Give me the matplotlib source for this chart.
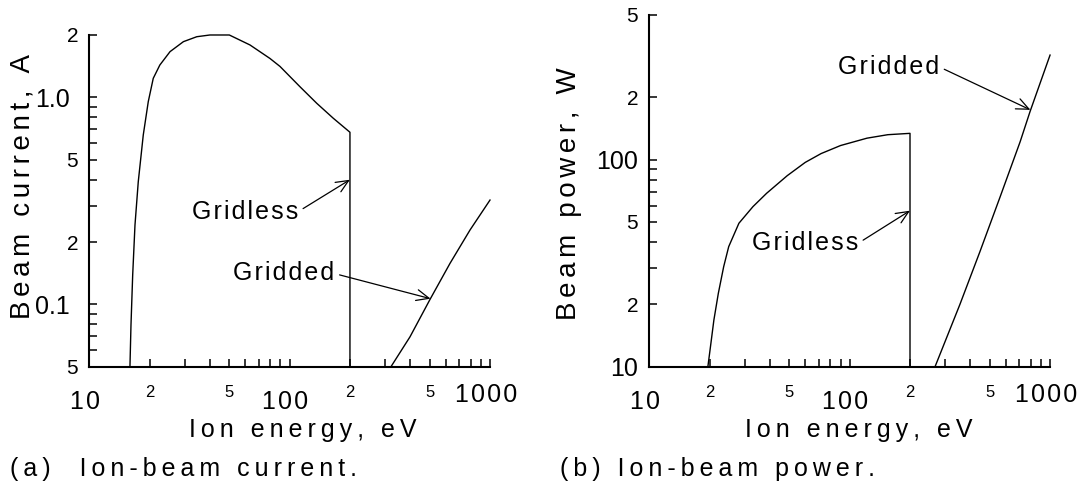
import numpy as np
import matplotlib.pyplot as plt
import matplotlib.transforms as mtransforms

plt.rcParams['font.family'] = ['Liberation Sans', 'DejaVu Sans']

# (a) beam current vs ion energy
cur_gridless_E = [15.96, 16.15, 16.47, 16.91, 17.56, 18.6, 19.7, 20.86, 22.5, 25.3, 29.5,
                  34.4, 40.0, 50.0, 63.4, 79.8, 89.5, 112.6, 136.5, 165.2, 200, 200]
cur_gridless_I = [0.05, 0.0794, 0.1386, 0.2416, 0.391, 0.658, 0.953, 1.235, 1.432, 1.662, 1.857,
                  1.962, 2.0, 2.0, 1.79, 1.54, 1.41, 1.125, 0.936, 0.792, 0.678, 0.05]
cur_gridded_E = [320.5, 398.8, 502, 631.6, 794.7, 1000]
cur_gridded_I = [0.05, 0.0697, 0.1057, 0.1578, 0.2286, 0.319]

# (b) beam power vs ion energy
pow_gridless_E = [19.6, 20.3, 21.0, 22.1, 23.5, 24.9, 28.0, 32.9, 38.5, 48.8, 60, 72, 90,
                  122, 155, 200, 200]
pow_gridless_P = [10, 13.0, 16.8, 22.6, 30.4, 38.0, 49.3, 59.3, 68.8, 83.7, 97, 107, 117,
                  127, 132, 134, 10]
pow_gridded_E = [266.7, 355, 447, 563, 709, 795, 1000]
pow_gridded_P = [10, 20.0, 36, 66, 122, 171, 320]

# ticks
x_major = [10, 100, 1000]
x_major_lab = ['10', '100', '1000']
x_minor = [20, 30, 40, 50, 60, 70, 80, 90, 200, 300, 400, 500, 600, 700, 800, 900]
x_minor_lab = ['2', '', '', '5', '', '', '', '', '2', '', '', '5', '', '', '', '']

a_major = [0.1, 1.0]
a_major_lab = ['0.1', '1.0']
a_minor = [0.05, 0.06, 0.07, 0.08, 0.09, 0.2, 0.3, 0.4, 0.5, 0.6, 0.7, 0.8, 0.9, 2]
a_minor_lab = ['5', '', '', '', '', '2', '', '', '5', '', '', '', '', '2']

b_major = [10, 100]
b_major_lab = ['10', '100']
b_minor = [20, 30, 40, 50, 60, 70, 80, 90, 200, 500]
b_minor_lab = ['2', '', '', '5', '', '', '', '', '2', '5']


def spaced(s, gap='\u2009'):
    return gap.join(s)


fig = plt.figure(figsize=(10.86, 4.84), dpi=100)
ax1 = fig.add_axes([0.0822, 0.2424, 0.369, 0.6853])
ax2 = fig.add_axes([0.5979, 0.2424, 0.369, 0.7267])

ax1.plot(cur_gridless_E, cur_gridless_I, color='black', lw=1.0, clip_on=False)
ax1.plot(cur_gridded_E, cur_gridded_I, color='black', lw=1.0, clip_on=False)
ax2.plot(pow_gridless_E, pow_gridless_P, color='black', lw=1.0, clip_on=False)
ax2.plot(pow_gridded_E, pow_gridded_P, color='black', lw=1.0, clip_on=False)

for ax in (ax1, ax2):
    ax.set_xscale('log')
    ax.set_yscale('log')
    ax.set_xlim(10, 1000)
    for s in ('top', 'right'):
        ax.spines[s].set_visible(False)
    for s in ('left', 'bottom'):
        ax.spines[s].set_linewidth(1.5)
    ax.set_xticks(x_major, labels=[spaced(t, '\u200a') for t in x_major_lab])
    ax.set_xticks(x_minor, labels=x_minor_lab, minor=True)
    ax.tick_params(which='both', direction='in', length=6, width=1.1,
                   top=False, right=False)
    ax.tick_params(axis='x', which='major', labelsize=18, pad=16.5)
    ax.tick_params(axis='x', which='minor', labelsize=12, pad=13)
    ax.tick_params(axis='y', which='major', labelsize=18)
    ax.tick_params(axis='y', which='minor', labelsize=15, pad=8)

ax1.set_ylim(0.05, 2)
ax1.set_yticks(a_major, labels=a_major_lab)
ax1.set_yticks(a_minor, labels=a_minor_lab, minor=True)
ax1.tick_params(axis='y', which='major', pad=14)
ax2.set_ylim(10, 500)
ax2.set_yticks(b_major, labels=b_major_lab)
ax2.set_yticks(b_minor, labels=b_minor_lab, minor=True)
ax2.tick_params(axis='y', which='major', pad=8.5)

# major x labels sit a little left, and "1000" a little higher
for ax in (ax1, ax2):
    for lab in ax.get_xticklabels():
        dy = 5 if lab.get_text().startswith('1\u200a0\u200a0\u200a0') else 0
        lab.set_transform(lab.get_transform() +
                          mtransforms.ScaledTranslation(-3 / 72, dy / 72, fig.dpi_scale_trans))

arrow = dict(arrowstyle='->,head_length=0.5,head_width=0.22', lw=0.9, color='black',
             shrinkA=2, shrinkB=0, relpos=(1.0, 0.5))
ax1.annotate(spaced('Gridless', '\u200a'), xy=(200, 0.40), xytext=(110, 0.28),
             ha='right', va='center', fontsize=18, arrowprops=arrow)
ax1.annotate(spaced('Gridded', '\u200a'), xy=(505, 0.1065), xytext=(166.7, 0.141),
             ha='right', va='center', fontsize=18, arrowprops=arrow)
ax2.annotate(spaced('Gridless', '\u200a'), xy=(200, 56.7), xytext=(110, 39.4),
             ha='right', va='center', fontsize=18, arrowprops=arrow)
ax2.annotate(spaced('Gridded', '\u200a'), xy=(798, 174), xytext=(279, 281),
             ha='right', va='center', fontsize=18, arrowprops=arrow)

fig.text(0.0206, 0.6143, spaced('Beam current, A', '\u2006'), rotation=90, ha='center',
         va='center', fontsize=20)
fig.text(0.524, 0.6006, spaced('Beam power, W', '\u2006'), rotation=90, ha='center',
         va='center', fontsize=20)
fig.text(0.279, 0.0977, spaced('Ion energy, eV'), ha='center', va='baseline', fontsize=18)
fig.text(0.791, 0.0977, spaced('Ion energy, eV'), ha='center', va='baseline', fontsize=18)
fig.text(0.0092, 0.0165, spaced('(a)  Ion-beam current.'), ha='left', va='baseline',
         fontsize=18)
fig.text(0.516, 0.0165, spaced('(b) Ion-beam power.'), ha='left', va='baseline',
         fontsize=18)

fig.savefig('out.png', dpi=100)
